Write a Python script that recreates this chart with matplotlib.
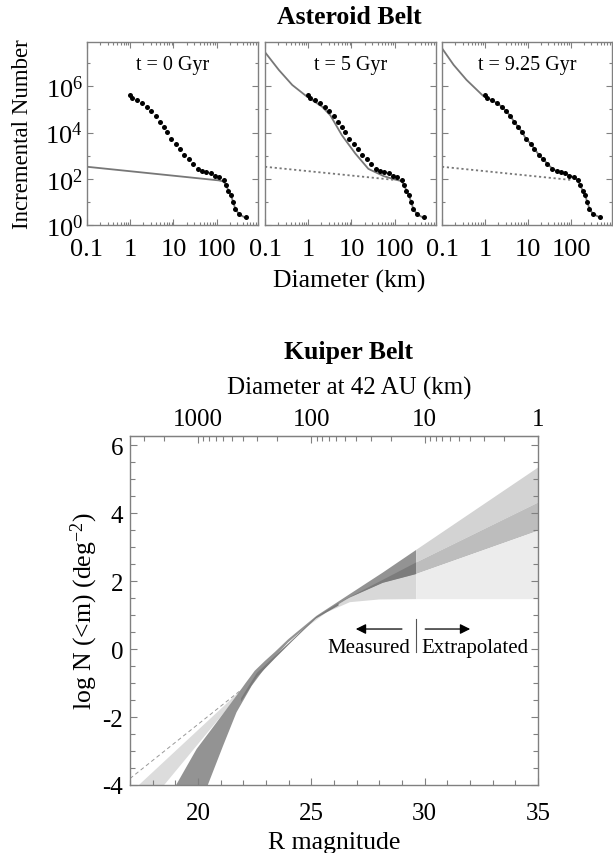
import numpy as np
import matplotlib
matplotlib.use('Agg')
import matplotlib.pyplot as plt
import matplotlib.ticker as mticker

plt.rcParams['font.family'] = 'Liberation Serif'
plt.rcParams['mathtext.fontset'] = 'custom'
plt.rcParams['mathtext.rm'] = 'Liberation Serif'
plt.rcParams['mathtext.it'] = 'Liberation Serif:italic'
plt.rcParams['axes.unicode_minus'] = False

# ---- Asteroid Belt (log10 diametro km, log10 numero incremental) ----
obs_logD = [0.0, 0.04, 0.16, 0.27, 0.39, 0.49, 0.59, 0.68, 0.77, 0.86, 0.95, 1.06,
            1.15, 1.25, 1.36, 1.45, 1.57, 1.67, 1.76, 1.86, 1.96, 2.06, 2.16, 2.22,
            2.27, 2.33, 2.38, 2.43, 2.51, 2.67]
obs_logN = [5.62, 5.51, 5.39, 5.29, 5.12, 4.93, 4.72, 4.46, 4.25, 4.03, 3.74, 3.52,
            3.30, 3.04, 2.84, 2.65, 2.43, 2.33, 2.29, 2.25, 2.14, 2.07, 1.93, 1.71,
            1.49, 1.28, 0.99, 0.70, 0.48, 0.33]

# poblacion inicial (linea punteada en t = 5 y 9.25)
ini_logD = [-1.0, 2.0]
ini_logN = [2.52, 1.95]

# modelos
t0_logD = [-1.0, 2.05, 2.16, 2.22, 2.27, 2.33, 2.38, 2.43, 2.51, 2.67]
t0_logN = [2.52, 1.93, 1.88, 1.71, 1.49, 1.28, 0.99, 0.70, 0.48, 0.30]

t5_logD = [-0.98, -0.68, -0.37, -0.06, 0.32, 0.51, 0.78, 1.09, 1.39, 1.74, 2.0,
           2.16, 2.22, 2.27, 2.33, 2.38, 2.43, 2.51, 2.67]
t5_logN = [7.43, 6.71, 6.06, 5.60, 5.12, 4.75, 3.88, 3.09, 2.43, 2.12, 1.97,
           1.90, 1.71, 1.49, 1.28, 0.99, 0.70, 0.48, 0.30]

t9_logD = [-1.0, -0.73, -0.43, -0.05] + obs_logD[2:]
t9_logN = [7.65, 6.93, 6.28, 5.60] + obs_logN[2:]

etiquetas = ['t = 0 Gyr', 't = 5 Gyr', 't = 9.25 Gyr']

# ---- Kuiper Belt (R magnitude, log N) ----
dpl_mag_top = [18.86, 19.06, 19.94, 20.82, 21.70, 22.10, 22.50, 22.95, 23.40, 23.98,
               25.23, 26.70, 28.15, 29.63]
dpl_top = [-4.2, -3.97, -2.94, -2.16, -1.37, -1.00, -0.64, -0.35, -0.08, 0.29,
           0.98, 1.62, 2.25, 2.92]
dpl_mag_bot = [20.33, 20.45, 21.11, 21.70, 22.37, 23.03, 23.98, 25.23, 26.70, 28.15, 29.63]
dpl_bot = [-4.2, -3.97, -2.84, -1.86, -1.08, -0.49, 0.20, 0.92, 1.52, 1.95, 2.21]

# nucleo mas oscuro
core_mag = [21.9, 22.6, 23.4, 24.2, 25.2, 26.2, 26.2, 25.2, 24.2, 23.4, 22.6, 21.9]
core_logN = [-1.45, -0.70, -0.20, 0.30, 0.94, 1.36, 1.28, 0.90, 0.26, -0.27, -0.82, -1.55]

sub_mag = [26.2, 29.63, 29.63, 28.15, 26.70]
sub_logN = [1.36, 2.55, 2.21, 1.95, 1.52]

knee_mag = [24.3, 25.23, 26.70, 28.15, 29.63, 29.63, 28.0, 26.70, 25.67, 24.3]
knee_logN = [0.45, 0.92, 1.52, 1.95, 2.21, 1.47, 1.46, 1.38, 1.08, 0.40]

spl_mag = [17.07, 22.2, 18.26]
spl_logN = [-4.2, -1.02, -4.2]

dash_mag = [17.0, 21.85]
dash_logN = [-3.81, -1.23]

ext_mag = [29.63, 35.0]
ext_top = [2.92, 5.34]
ext_mid = [2.55, 4.31]
ext_low = [2.21, 3.48]
ext_floor = [1.47, 1.47]

W, H = 613, 854
fig = plt.figure(figsize=(W / 100, H / 100), dpi=100)

def caja(x0, y0, x1, y1):
    return [x0 / W, 1 - y1 / H, (x1 - x0) / W, (y1 - y0) / H]

gris = '#808080'
lefts = [(87, 258), (265, 436), (442, 612)]
modelos = [(t0_logD, t0_logN), (t5_logD, t5_logN), (t9_logD, t9_logN)]

for i, (x0, x1) in enumerate(lefts):
    ax = fig.add_axes(caja(x0, 43, x1, 226))
    mD, mN = modelos[i]
    if i > 0:
        ax.plot(10 ** np.array(ini_logD), 10 ** np.array(ini_logN), ls=(0, (1.2, 1.5)),
                color='#777777', lw=1.3)
    ax.plot(10 ** np.array(mD), 10 ** np.array(mN), color='#777777', lw=1.3)
    ax.plot(10 ** np.array(obs_logD), 10 ** np.array(obs_logN), 'o', color='black',
            ms=3.6, mec='none')
    ax.set_xscale('log')
    ax.set_yscale('log')
    ax.set_xlim(0.1, 900)
    ax.set_ylim(1, 10 ** 7.92)
    ax.xaxis.set_major_locator(mticker.FixedLocator([0.1, 1, 10, 100]))
    ax.xaxis.set_major_formatter(mticker.FixedFormatter(['0.1', '1', '10', '100']))
    ax.xaxis.set_minor_locator(mticker.LogLocator(base=10, subs=np.arange(2, 10)))
    ax.xaxis.set_minor_formatter(mticker.NullFormatter())
    ax.yaxis.set_major_locator(mticker.FixedLocator([1, 1e2, 1e4, 1e6]))
    ax.yaxis.set_minor_locator(mticker.FixedLocator([1e1, 1e3, 1e5, 1e7]))
    ax.yaxis.set_minor_formatter(mticker.NullFormatter())
    if i == 0:
        ax.yaxis.set_major_formatter(mticker.FixedFormatter(
            ['$10^0$', '$10^2$', '$10^4$', '$10^6$']))
    else:
        ax.yaxis.set_major_formatter(mticker.NullFormatter())
    ax.tick_params(which='both', direction='in', top=True, right=True, color=gris,
                   labelsize=19, width=0.8)
    ax.tick_params(which='major', length=4)
    ax.tick_params(which='minor', length=2.5)
    ax.tick_params(axis='x', pad=9)
    ax.tick_params(axis='y', pad=3)
    for s in ax.spines.values():
        s.set_color(gris)
        s.set_linewidth(1.0)
    ax.text(0.5, 0.875, etiquetas[i], transform=ax.transAxes, ha='center', va='center',
            fontsize=14.5)

fig.text(349.7 / W, 1 - 17 / H, 'Asteroid Belt', ha='center', va='center',
         fontsize=18.5, fontweight='bold')
fig.text(349.5 / W, 1 - 281 / H, 'Diameter (km)', ha='center', va='center', fontsize=18.5)
fig.text(23 / W, 1 - 134 / H, 'Incremental Number', ha='center', va='center',
         fontsize=16.5, rotation=90)

# ---- Kuiper ----
axk = fig.add_axes(caja(130, 437, 538, 786))
axk.fill(spl_mag, spl_logN, color='#dcdcdc', lw=0)
axk.plot(dash_mag, dash_logN, ls=(0, (4, 3)), color='#999999', lw=0.7)
axk.fill(knee_mag, knee_logN, color='#d8d8d8', lw=0)
axk.fill(dpl_mag_top + dpl_mag_bot[::-1], dpl_top + dpl_bot[::-1], color='#939393', lw=0)
axk.fill(core_mag, core_logN, color='#7a7a7a', lw=0)
axk.fill(sub_mag, sub_logN, color='#7c7c7c', lw=0)
axk.fill(ext_mag + ext_mag[::-1], ext_top + ext_mid[::-1], color='#d3d3d3', lw=0)
axk.fill(ext_mag + ext_mag[::-1], ext_mid + ext_low[::-1], color='#bdbdbd', lw=0)
axk.fill(ext_mag + ext_mag[::-1], ext_low + ext_floor[::-1], color='#ececec', lw=0)

axk.plot([29.6, 29.6], [-0.09, 0.88], color='#555555', lw=0.8)
axk.annotate('', xy=(26.84, 0.59), xytext=(29.12, 0.59),
             arrowprops=dict(arrowstyle='-|>', color='black', lw=0.9, mutation_scale=15))
axk.annotate('', xy=(32.13, 0.59), xytext=(29.9, 0.59),
             arrowprops=dict(arrowstyle='-|>', color='black', lw=0.9, mutation_scale=15))
axk.text(29.35, 0.06, 'Measured', ha='right', va='center', fontsize=15)
axk.text(29.85, 0.06, 'Extrapolated', ha='left', va='center', fontsize=15)

axk.set_xlim(17, 35)
axk.set_ylim(-4, 6.27)
axk.xaxis.set_major_locator(mticker.FixedLocator([20, 25, 30, 35]))
axk.xaxis.set_minor_locator(mticker.MultipleLocator(1))
axk.yaxis.set_major_locator(mticker.FixedLocator([-4, -2, 0, 2, 4, 6]))
axk.yaxis.set_minor_locator(mticker.MultipleLocator(0.5))
axk.tick_params(which='both', direction='in', right=True, color=gris, labelsize=18, width=0.8)
axk.tick_params(which='major', length=5)
axk.tick_params(which='minor', length=3.5)
axk.tick_params(axis='x', pad=12)
axk.tick_params(axis='y', pad=5)
for s in axk.spines.values():
    s.set_color(gris)
    s.set_linewidth(1.0)
axk.set_xlabel('R magnitude', fontsize=18.5, labelpad=5)
axk.set_ylabel('log N (<m) (deg$^{-2}$)', fontsize=18.5, labelpad=2)

def mag2d(m):
    return 10 ** (3 - (np.asarray(m) - 20) / 5)

def d2mag(d):
    return 20 + 5 * (3 - np.log10(np.asarray(d)))

sec = axk.secondary_xaxis('top', functions=(mag2d, d2mag))
sec.xaxis.set_major_locator(mticker.FixedLocator([1000, 100, 10, 1]))
sec.xaxis.set_major_formatter(mticker.FixedFormatter(['1000', '100', '10', '1']))
menores = [k * 10 ** e for e in range(0, 4) for k in range(2, 10)]
sec.xaxis.set_minor_locator(mticker.FixedLocator(menores))
sec.tick_params(which='both', direction='in', color=gris, labelsize=18, width=0.8)
sec.tick_params(which='major', length=5, pad=4)
sec.tick_params(which='minor', length=3.5)
sec.spines['top'].set_color(gris)

fig.text(348.7 / W, 1 - 353 / H, 'Kuiper Belt', ha='center', va='center',
         fontsize=18.5, fontweight='bold')
fig.text(349.7 / W, 1 - 388 / H, 'Diameter at 42 AU (km)', ha='center', va='center',
         fontsize=18)

fig.savefig('out.png', dpi=100)
